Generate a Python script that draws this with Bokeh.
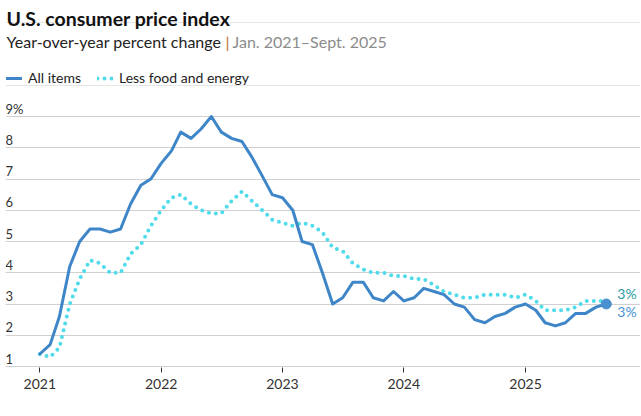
import pandas as pd
from bokeh.plotting import figure
from bokeh.models import (Range1d, FixedTicker, Grid, Label, Legend, LegendItem,
                          DatetimeTickFormatter)
from bokeh.core.properties import value
from bokeh.embed import file_html
from bokeh.resources import INLINE

# ---------------- data ----------------
months = pd.date_range("2021-01-01", "2025-09-01", freq="MS")

all_items = [
    1.4, 1.7, 2.6, 4.2, 5.0, 5.4, 5.4, 5.3, 5.4, 6.2, 6.8, 7.0,   # 2021
    7.5, 7.9, 8.5, 8.3, 8.6, 9.0, 8.5, 8.3, 8.2, 7.7, 7.1, 6.5,   # 2022
    6.4, 6.0, 5.0, 4.9, 4.0, 3.0, 3.2, 3.7, 3.7, 3.2, 3.1, 3.4,   # 2023
    3.1, 3.2, 3.5, 3.4, 3.3, 3.0, 2.9, 2.5, 2.4, 2.6, 2.7, 2.9,   # 2024
    3.0, 2.8, 2.4, 2.3, 2.4, 2.7, 2.7, 2.9, 3.0,                  # 2025
]
core = [
    1.4, 1.3, 1.6, 3.0, 3.8, 4.4, 4.3, 4.0, 4.0, 4.6, 4.9, 5.5,   # 2021
    6.0, 6.4, 6.5, 6.2, 6.0, 5.9, 5.9, 6.3, 6.6, 6.3, 6.0, 5.7,   # 2022
    5.6, 5.5, 5.6, 5.5, 5.3, 4.8, 4.7, 4.3, 4.1, 4.0, 4.0, 3.9,   # 2023
    3.9, 3.8, 3.8, 3.6, 3.4, 3.3, 3.2, 3.2, 3.3, 3.3, 3.3, 3.2,   # 2024
    3.3, 3.1, 2.8, 2.8, 2.8, 2.9, 3.1, 3.1, 3.1,                  # 2025
]
series_names = ["All items", "Less food and energy"]
y_ticks = [1, 2, 3, 4, 5, 6, 7, 8, 9]
y_tick_labels = ["1", "2", "3", "4", "5", "6", "7", "8", "9%"]
x_tick_years = [2021, 2022, 2023, 2024, 2025]
end_labels = ["3%", "3%"]
title = "U.S. consumer price index"
subtitle_main = "Year-over-year percent change"
subtitle_range = "Jan. 2021\u2013Sept. 2025"

# ---------------- style ----------------
FONT = "Lato"
BLUE = "#3e86c8"
CYAN = "#4fdbea"
TEAL_TXT = "#2a9aa2"
BLUE_TXT = "#4a90d2"
GRID = "#d0d0d0"
DARK = "#222222"
GRAY = "#8c8c8c"

def ms(ts):
    return pd.Timestamp(ts).value / 1e6

DAY_MS = 86400000.0
x0 = ms("2021-01-01") - 103.2 * DAY_MS
x1 = x0 + 1910.1 * DAY_MS
grid_end = x0 + 1834.9 * DAY_MS

p = figure(width=640, height=410, x_axis_type="datetime", y_axis_location=None,
           output_backend="svg", toolbar_location=None,
           x_range=Range1d(x0, x1), y_range=Range1d(0.968, 12.712),
           min_border_left=5, min_border_right=0, min_border_top=0,
           min_border_bottom=43)
p.outline_line_color = None
p.xgrid.grid_line_color = None
p.background_fill_color = "white"
p.border_fill_color = "white"

p.add_layout(Grid(dimension=1, ticker=FixedTicker(ticks=y_ticks),
                  bounds=(x0, grid_end),
                  grid_line_color=GRID, grid_line_width=1))

ax = p.xaxis[0]
ax.ticker = FixedTicker(ticks=[ms(f"{y}-01-01") for y in x_tick_years])
ax.formatter = DatetimeTickFormatter(years="%Y", months="%Y", days="%Y",
                                     hours="%Y", minutes="%Y", seconds="%Y",
                                     milliseconds="%Y", microseconds="%Y",
                                     hourmin="%Y", minsec="%Y")
ax.axis_line_color = None
ax.major_tick_line_color = "#333333"
ax.major_tick_out = 5
ax.major_tick_in = 0
ax.minor_tick_line_color = None
ax.major_label_standoff = 6
ax.major_label_text_font = FONT
ax.major_label_text_font_size = "14px"
ax.major_label_text_color = "#333333"

# y tick labels above the gridlines, left aligned
p.text(x=[x0] * len(y_ticks), y=y_ticks, text=y_tick_labels,
       text_font=value(FONT), text_font_size="13px", text_color="#333333",
       text_align="left", text_baseline="alphabetic", y_offset=-8)

r2 = p.line(months, core, line_width=4, line_color=CYAN, line_dash="0 7",
            line_cap="round")
r1 = p.line(months, all_items, line_width=3, line_color=BLUE,
            line_join="round", line_cap="round")
p.scatter([months[-1]], [all_items[-1]], size=10, fill_color="#4a90d0",
          line_color="#4a90d0")

last_x = ms(months[-1])
p.add_layout(Label(x=last_x, y=core[-1], x_offset=11, y_offset=7, text=end_labels[1],
                   text_font=FONT, text_font_size="14px", text_color=TEAL_TXT,
                   text_baseline="middle", text_align="left"))
p.add_layout(Label(x=last_x, y=all_items[-1], x_offset=11, y_offset=-7, text=end_labels[0],
                   text_font=FONT, text_font_size="14px", text_color=BLUE_TXT,
                   text_baseline="middle", text_align="left"))

legend = Legend(items=[LegendItem(label=series_names[0], renderers=[r1]),
                       LegendItem(label=series_names[1], renderers=[r2])],
                orientation="horizontal", location=(1, 281), padding=0, margin=0,
                spacing=16, glyph_width=16, glyph_height=14, label_standoff=6,
                label_text_font=FONT, label_text_font_size="14px",
                label_text_color=DARK, border_line_color=None,
                background_fill_alpha=0)
p.add_layout(legend, "center")

p.add_layout(Label(x=1, y=349.5, x_units="screen", y_units="screen", text=title,
                   text_font=FONT, text_font_style="bold", text_font_size="19.5px",
                   text_color="#111111", text_baseline="middle"))
p.add_layout(Label(x=1, y=326, x_units="screen", y_units="screen", text=subtitle_main,
                   text_font=FONT, text_font_size="16px", text_color=DARK,
                   text_baseline="middle"))
p.add_layout(Label(x=220, y=326, x_units="screen", y_units="screen", text="|",
                   text_font=FONT, text_font_size="16px", text_color="#c0712f",
                   text_baseline="middle"))
p.add_layout(Label(x=227, y=326, x_units="screen", y_units="screen", text=subtitle_range,
                   text_font=FONT, text_font_size="16px", text_color=GRAY,
                   text_baseline="middle"))

open("out.html", "w").write(file_html(p, INLINE))
